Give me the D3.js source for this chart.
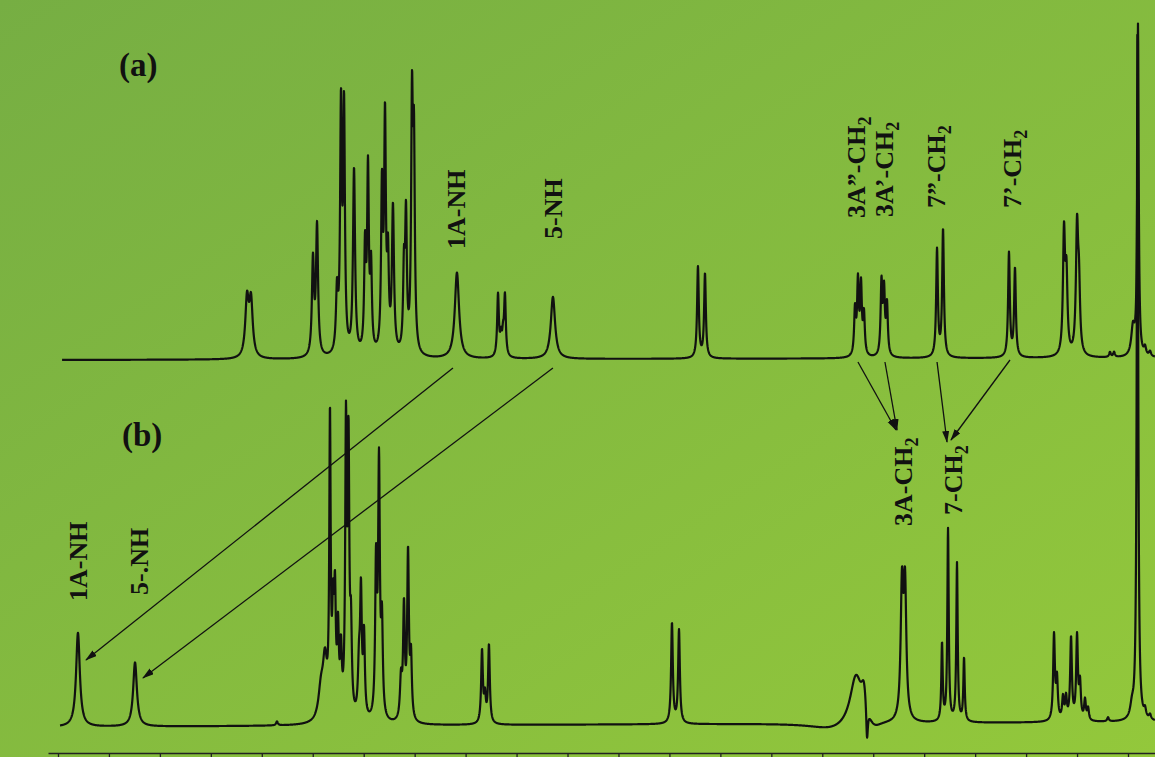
<!DOCTYPE html>
<meta charset="utf-8">
<script src="https://d3js.org/d3.v7.min.js"></script>
<style>
  body { margin: 0; }
  svg { display: block; }
  .trace { fill: none; stroke: #111; stroke-width: 2.2px; stroke-linejoin: round; }
  .lbl { font-family: "Liberation Serif", "Times New Roman", serif; font-weight: bold; fill: #111; }
  .axis path, .axis line { stroke: #222; stroke-width: 1.3px; }
  .arrow { stroke: #111; stroke-width: 1.3px; fill: none; }
</style>
<div id="chart"></div>
<script>
// peaks: [ppm, height (a.u.), half width (ppm)]
var peaksA = [
  [9.145, 57, 0.020], [9.106, 55, 0.020],
  [8.498, 95, 0.012], [8.458, 129, 0.012],
  [8.262, 60, 0.012], [8.223, 240, 0.010], [8.193, 239, 0.010],
  [8.095, 185, 0.012],
  [7.987, 102, 0.010], [7.958, 180, 0.010], [7.928, 82, 0.010],
  [7.821, 160, 0.010], [7.791, 227, 0.010], [7.762, 87, 0.010], [7.713, 145, 0.012],
  [7.605, 78, 0.010], [7.585, 131, 0.010], [7.526, 240, 0.010], [7.507, 195, 0.010],
  [7.085, 86, 0.025],
  [6.682, 62, 0.010], [6.653, 18, 0.010], [6.633, 18, 0.010], [6.614, 60, 0.010],
  [6.143, 62, 0.025],
  [4.720, 91, 0.010], [4.651, 84, 0.010],
  [3.179, 45, 0.010], [3.150, 72, 0.010], [3.120, 68, 0.010], [3.091, 40, 0.010],
  [2.919, 72, 0.010], [2.894, 62, 0.010], [2.865, 50, 0.010],
  [2.374, 107, 0.010], [2.315, 127, 0.010],
  [1.668, 104, 0.010], [1.609, 88, 0.010],
  [1.128, 120, 0.012], [1.104, 75, 0.012],
  [1.000, 125, 0.013], [0.981, 60, 0.012],
  [0.677, 5, 0.010], [0.637, 5, 0.010],
  [0.451, 28, 0.020], [0.402, 330, 0.008],
  [0.333, 8, 0.012], [0.284, 5, 0.012]
];

var peaksB = [
  [10.804, 94, 0.022],
  [10.244, 64, 0.022],
  [8.851, 4, 0.010],
  [8.419, 30, 0.030], [8.380, 55, 0.025],
  [8.331, 290, 0.008], [8.301, 90, 0.010], [8.282, 110, 0.010], [8.252, 80, 0.010], [8.223, 60, 0.010],
  [8.174, 283, 0.009], [8.149, 260, 0.009], [8.125, 80, 0.010],
  [8.046, 50, 0.012], [8.027, 120, 0.010], [7.997, 80, 0.010],
  [7.879, 150, 0.010], [7.850, 250, 0.010], [7.821, 90, 0.010],
  [7.634, 40, 0.012], [7.605, 110, 0.010], [7.565, 165, 0.010], [7.536, 60, 0.010],
  [6.839, 72, 0.010], [6.810, 25, 0.010], [6.771, 78, 0.010],
  [4.975, 100, 0.010], [4.906, 93, 0.010],
  [3.395, -7, 0.250],
  [3.170, 50, 0.070], [3.091, 28, 0.030],
  [3.061, -36, 0.010], [2.993, -8, 0.080],
  [2.718, 130, 0.015], [2.688, 130, 0.015],
  [2.325, 77, 0.008], [2.266, 192, 0.008], [2.178, 158, 0.008], [2.109, 63, 0.008],
  [1.226, 85, 0.010], [1.197, 40, 0.010], [1.138, 22, 0.010], [1.108, 22, 0.010],
  [1.059, 82, 0.010], [1.000, 83, 0.010], [0.971, 35, 0.010], [0.922, 20, 0.010], [0.892, 12, 0.010],
  [0.696, 4, 0.010],
  [0.461, 12, 0.020], [0.407, 696, 0.008],
  [0.333, 8, 0.012], [0.284, 5, 0.012]
];

// baseline drift [left, right] and where each trace starts (ppm)
var baseA = [-1, 1], baseB = [-1, 4];
var startA = 10.96, startB = 10.98;

var tickVals = [11, 10.5, 10, 9.5, 9, 8.5, 8, 7.5, 7, 6.5, 6, 5.5, 5, 4.5, 4, 3.5, 3, 2.5, 2, 1.5, 1, 0.5];

// labels: [text, subscript, ppm, intensity]
var labelsA = [
  ["1A-NH", "", 7.006, 110],
  ["5-NH", "", 6.054, 120],
  ["3A\u201D-CH", "2", 3.081, 141],
  ["3A\u2019-CH", "2", 2.806, 142],
  ["7\u201D-CH", "2", 2.296, 151],
  ["7\u2019-CH", "2", 1.550, 151]
];
var labelsB = [
  ["1A-NH", "", 10.715, 125],
  ["5-.NH", "", 10.117, 131],
  ["3A-CH", "2", 2.620, 200],
  ["7-CH", "2", 2.129, 211]
];

// arrows: [from ppm (a), from intensity (a), to ppm (b), to intensity (b)]
var arrows = [
  [7.124, -9, 10.725, 66],
  [6.143, -9, 10.166, 48],
  [3.150, -3, 2.777, 296],
  [2.885, -3, 2.767, 296],
  [2.374, -3, 2.276, 284],
  [1.658, -1, 2.237, 286]
];

var width = 1155, height = 757;

var x = d3.scaleLinear().domain([11.098, 0.235]).range([48, 1155]);
var yA = d3.scaleLinear().domain([0, 334]).range([359, 25]);
var yB = d3.scaleLinear().domain([0, 334]).range([726, 392]);

var svg = d3.select("#chart").append("svg")
  .attr("width", width)
  .attr("height", height);

// background
var defs = svg.append("defs");
var grad = defs.append("linearGradient")
  .attr("id", "bg")
  .attr("x1", "0").attr("y1", "0").attr("x2", "1").attr("y2", "1");
grad.append("stop").attr("offset", "0%").attr("stop-color", "#76ae43");
grad.append("stop").attr("offset", "100%").attr("stop-color", "#93c83b");

defs.append("marker")
  .attr("id", "head")
  .attr("markerUnits", "userSpaceOnUse")
  .attr("markerWidth", 12).attr("markerHeight", 8)
  .attr("refX", 11).attr("refY", 3.5)
  .attr("orient", "auto")
  .append("path")
  .attr("d", "M0,0 L12,3.5 L0,7 Z")
  .attr("fill", "#111");

svg.append("rect")
  .attr("width", width).attr("height", height)
  .attr("fill", "url(#bg)");

// spectrum = sum of lorentzians + linear baseline
function spectrum(peaks, base, start) {
  var lo = x.domain()[1], hi = start, pts = [];
  for (var p = hi; p >= lo; p -= 0.002) {
    var t = (hi - p) / (hi - lo);
    var v = base[0] + (base[1] - base[0]) * t;
    peaks.forEach(function (k) {
      var u = (p - k[0]) / k[2];
      v += k[1] / (1 + u * u);
    });
    pts.push([p, v]);
  }
  return pts;
}

var lineA = d3.line().x(function (d) { return x(d[0]); }).y(function (d) { return yA(d[1]); });
var lineB = d3.line().x(function (d) { return x(d[0]); }).y(function (d) { return yB(d[1]); });

svg.append("path").datum(spectrum(peaksB, baseB, startB))
  .attr("class", "trace").attr("d", lineB);
svg.append("path").datum(spectrum(peaksA, baseA, startA))
  .attr("class", "trace").attr("d", lineA);

// axis
svg.append("g")
  .attr("class", "axis")
  .attr("transform", "translate(0,753)")
  .call(d3.axisBottom(x).tickValues(tickVals).tickSize(5).tickSizeOuter(0).tickFormat(""));

// arrows
svg.selectAll(".arrow").data(arrows).enter().append("line")
  .attr("class", "arrow")
  .attr("x1", function (d) { return x(d[0]); })
  .attr("y1", function (d) { return yA(d[1]); })
  .attr("x2", function (d) { return x(d[2]); })
  .attr("y2", function (d) { return yB(d[3]); })
  .attr("marker-end", "url(#head)");

// peak labels
function addLabels(list, y) {
  list.forEach(function (d) {
    var t = svg.append("text")
      .attr("class", "lbl")
      .style("font-size", "26px")
      .attr("transform", "translate(" + x(d[2]) + "," + y(d[3]) + ")rotate(-90)")
      .text(d[0]);
    if (d[1]) {
      t.append("tspan").attr("dy", 6).style("font-size", "18px").text(d[1]);
    }
  });
}
addLabels(labelsA, yA);
addLabels(labelsB, yB);

svg.append("text").attr("class", "lbl").style("font-size", "33px")
  .attr("x", x(10.401)).attr("y", yA(283)).text("(a)");
svg.append("text").attr("class", "lbl").style("font-size", "33px")
  .attr("x", x(10.372)).attr("y", yB(280)).text("(b)");
</script>
